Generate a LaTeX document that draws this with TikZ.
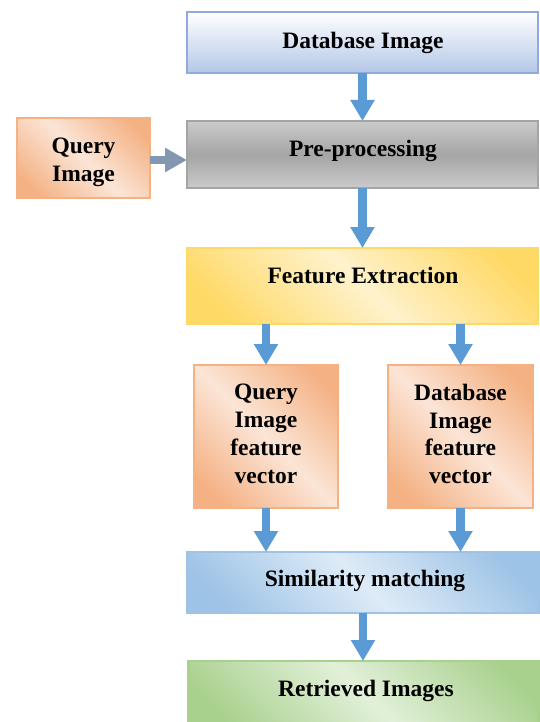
\documentclass[tikz,border=0pt]{standalone}
\usepackage{fontspec}
\setmainfont{Liberation Serif}
\usetikzlibrary{arrows.meta,calc}
\definecolor{dbD}{HTML}{B4C7E7}
\definecolor{dbB}{HTML}{8FAADC}
\definecolor{preL}{HTML}{CACACA}
\definecolor{preD}{HTML}{A5A5A5}
\definecolor{orD}{HTML}{F4B183}
\definecolor{orL}{HTML}{FBE5D6}
\definecolor{yeD}{HTML}{FFD966}
\definecolor{yeL}{HTML}{FFF2CC}
\definecolor{blD}{HTML}{9DC3E6}
\definecolor{blL}{HTML}{DEEBF7}
\definecolor{grD}{HTML}{A9D18E}
\definecolor{grL}{HTML}{E2F0D9}
\definecolor{arrowblue}{HTML}{5B9BD5}
\definecolor{arrowgray}{HTML}{8497B0}
\pgfdeclareverticalshading{preS}{100bp}{color(0bp)=(preL); color(25bp)=(preL); color(50bp)=(preD); color(75bp)=(preL); color(100bp)=(preL)}
\pgfdeclareverticalshading{dbS}{100bp}{color(0bp)=(dbD); color(25bp)=(dbD); color(75bp)=(white); color(100bp)=(white)}
\pgfdeclarehorizontalshading{orS}{100bp}{color(0bp)=(orD); color(22bp)=(orD); color(50bp)=(orL); color(78bp)=(orD); color(100bp)=(orD)}
\pgfdeclarehorizontalshading{yeS}{100bp}{color(0bp)=(yeD); color(22bp)=(yeD); color(50bp)=(yeL); color(78bp)=(yeD); color(100bp)=(yeD)}
\pgfdeclarehorizontalshading{blS}{100bp}{color(0bp)=(blD); color(22bp)=(blD); color(50bp)=(blL); color(78bp)=(blD); color(100bp)=(blD)}
\pgfdeclarehorizontalshading{grS}{100bp}{color(0bp)=(grD); color(22bp)=(grD); color(50bp)=(grL); color(78bp)=(grD); color(100bp)=(grD)}
\tikzset{
  box/.style={rectangle, line width=2.2pt, inner sep=0pt, outer sep=0pt},
  dbbox/.style={box, draw=dbB, shading=dbS},
  prebox/.style={box, draw=preD, shading=preS},
  orbox/.style={box, draw=orD, shading=orS, shading angle=45},
  yebox/.style={box, draw=yeD, shading=yeS, shading angle=45},
  blbox/.style={box, draw=blD, shading=blS, shading angle=45},
  grbox/.style={box, draw=grD, shading=grS, shading angle=45},
  lbl/.style={inner sep=0pt, align=center, font=\fontsize{23.5}{27.8}\selectfont\bfseries},
  bigarrow/.style={draw=arrowblue, line width=8.6pt, -{Triangle[width=23pt,length=21pt]}, arrowblue},
  grayarrow/.style={draw=arrowgray, line width=7.5pt, -{Triangle[width=23pt,length=22pt]}, arrowgray}
}
\begin{document}
\begin{tikzpicture}[x=1pt,y=1pt]
\useasboundingbox (0,0) rectangle (539,-722);
% boxes
\node[dbbox, minimum width=351, minimum height=61] (db) at (362.5,-42.5) {};
\node[prebox, minimum width=351, minimum height=67] (pre) at (362.5,-154.5) {};
\node[orbox, minimum width=133, minimum height=80] (query) at (83.5,-158) {};
\node[yebox, minimum width=351, minimum height=76] (fe) at (362.5,-286) {};
\node[orbox, minimum width=144, minimum height=143] (qfv) at (266,-436.5) {};
\node[orbox, minimum width=145, minimum height=143] (dfv) at (460.5,-436.5) {};
\node[blbox, minimum width=351, minimum height=61] (sim) at (363,-582.5) {};
\node[grbox, minimum width=350, minimum height=65] (ret) at (363.5,-693.5) {};
% labels
\node[lbl] (dbt) at (363,-42.5) {Database Image};
\node[lbl] (pret) at (363,-151) {Pre-processing};
\node[lbl] (queryt) at (83.5,-162) {Query\\Image};
\node[lbl] (fet) at (363,-275.5) {Feature Extraction};
\node[lbl] (qfvt) at (266,-434) {Query\\Image\\feature\\vector};
\node[lbl] (dfvt) at (460.5,-434) {Database\\Image\\feature\\vector};
\node[lbl] (simt) at (365,-580.5) {Similarity matching};
\node[lbl] (rett) at (366,-691) {Retrieved Images};
% connectors
\draw[bigarrow] (db.south) -- (pre.north);
\draw[bigarrow] (pre.south) -- (fe.north);
\draw[bigarrow] (fe.south -| qfv.north) -- (qfv.north);
\draw[bigarrow] (fe.south -| dfv.north) -- (dfv.north);
\draw[bigarrow] (qfv.south) -- (qfv.south |- sim.north);
\draw[bigarrow] (dfv.south) -- (dfv.south |- sim.north);
\draw[bigarrow] (sim.south) -- (sim.south |- ret.north);
\draw[grayarrow] ([yshift=-2pt]query.east) -- ([yshift=-2pt]query.east -| pre.west);
\end{tikzpicture}
\end{document}
